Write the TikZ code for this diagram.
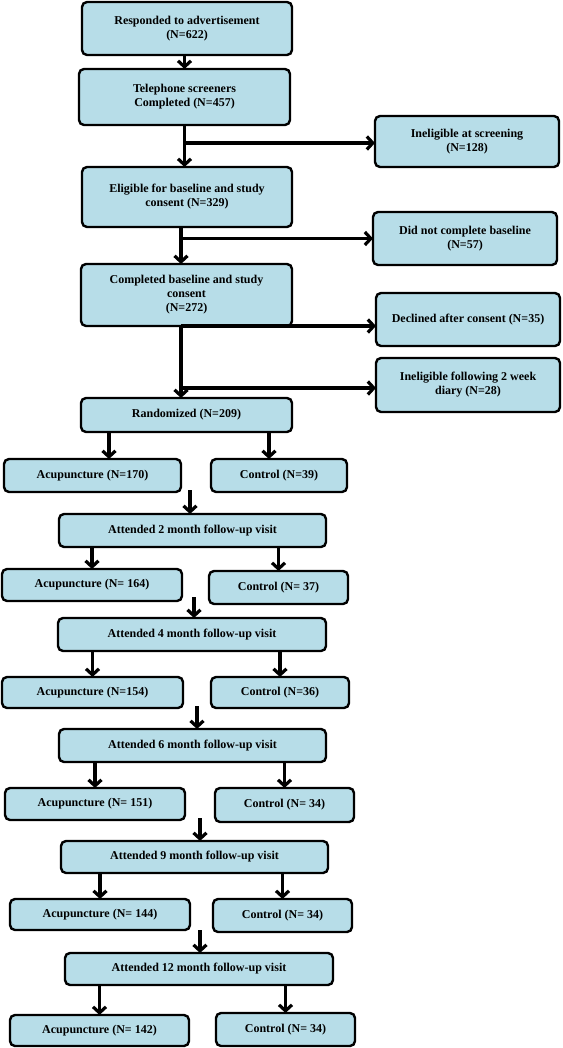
\documentclass[tikz,border=0pt]{standalone}
\usepackage{fontspec}
\setmainfont{Liberation Serif}
\usetikzlibrary{arrows.meta}
\definecolor{boxfill}{HTML}{B7DDE8}
\tikzset{
  bx/.style={draw, line width=2.4pt, rounded corners=5pt, fill=boxfill, align=center,
    inner sep=2pt, outer sep=0pt, font=\fontsize{12}{14}\selectfont\bfseries},
  arr/.style={line width=3.2pt, -{Straight Barb[length=6pt,width=13pt]}}
}
\newcommand\mkbox[6]{%
  \node[bx, minimum width={(#4-#2)*1pt}, minimum height={(#5-#3)*1pt}]
    (#1) at ({(#2+#4)/2},{-(#3+#5)/2}) {#6};}
\begin{document}
\begin{tikzpicture}[x=1pt,y=1pt]
\useasboundingbox (0,0) rectangle (562,-1048);
\mkbox{b1}{82}{2}{292}{55}{Responded to advertisement\\(N=622)}
\mkbox{b2}{79}{69}{290}{125}{Telephone screeners\\Completed (N=457)}
\mkbox{s1}{375}{116}{559}{167}{Ineligible at screening\\(N=128)}
\mkbox{b3}{82}{167}{292}{227}{Eligible for baseline and study\\consent (N=329)}
\mkbox{s2}{373}{212}{557}{265}{Did not complete baseline\\(N=57)}
\mkbox{b4}{81}{264}{292}{326}{Completed baseline and study\\consent\\(N=272)}
\mkbox{s3}{376}{293}{560}{346}{Declined after consent (N=35)}
\mkbox{s4}{376}{358}{560}{412}{Ineligible following 2 week\\diary (N=28)}
\mkbox{b5}{81}{398}{292}{432}{Randomized (N=209)}
\mkbox{a1}{4}{459}{181}{492}{Acupuncture (N=170)}
\mkbox{c1}{211}{459}{347}{492}{Control (N=39)}
\mkbox{f2}{59}{514}{326}{547}{Attended 2 month follow-up visit}
\mkbox{a2}{2}{569}{182}{601}{Acupuncture (N= 164)}
\mkbox{c2}{209}{571}{348}{604}{Control (N= 37)}
\mkbox{f4}{58}{618}{326}{651}{Attended 4 month follow-up visit}
\mkbox{a4}{2}{677}{183}{708}{Acupuncture (N=154)}
\mkbox{c4}{211}{677}{349}{708}{Control (N=36)}
\mkbox{f6}{59}{729}{326}{762}{Attended 6 month follow-up visit}
\mkbox{a6}{5}{788}{185}{820}{Acupuncture (N= 151)}
\mkbox{c6}{215}{788}{354}{822}{Control (N= 34)}
\mkbox{f9}{61}{841}{328}{873}{Attended 9 month follow-up visit}
\mkbox{a9}{10}{899}{190}{930}{Acupuncture (N= 144)}
\mkbox{c9}{213}{899}{352}{932}{Control (N= 34)}
\mkbox{f12}{65}{953}{333}{985}{Attended 12 month follow-up visit}
\mkbox{a12}{10}{1015}{189}{1046}{Acupuncture (N= 142)}
\mkbox{c12}{216}{1013}{355}{1046}{Control (N= 34)}
% top chain
\draw[arr] (b1.south -| b2.north) -- (b2.north);
\draw[arr] (b2.south) -- (b2.south |- b3.north);
\draw[arr] ([yshift=-1.5pt]b2.south |- s1.west) -- ([yshift=-1.5pt]s1.west);
\coordinate (t3) at ([xshift=-6pt]b3.south);
\draw[arr] (t3) -- (t3 |- b4.north);
\draw[arr] (t3 |- s2.west) -- (s2.west);
\coordinate (t4) at ([xshift=-5.5pt]b4.south);
\draw[arr] (t4) -- (t4 |- b5.north);
\draw[arr] (t4) -- (t4 -| s3.west);
\draw[arr] ([yshift=-3pt]t4 |- s4.west) -- ([yshift=-3pt]s4.west);
% randomized split
\coordinate (r1) at ([xshift=-77.5pt]b5.south);
\coordinate (r2) at ([xshift=82.5pt]b5.south);
\draw[arr] (r1) -- (r1 |- a1.north);
\draw[arr] (r2) -- (r2 |- c1.north);
% follow-ups
\coordinate (p2) at ([xshift=-2.5pt,yshift=24pt]f2.north);
\draw[arr] (p2) -- (p2 |- f2.north);
\draw[arr] (f2.south -| a2.north) -- (a2.north);
\draw[arr] (f2.south -| c2.north) -- (c2.north);
\coordinate (p4) at ([xshift=2pt,yshift=21pt]f4.north);
\draw[arr] (p4) -- (p4 |- f4.north);
\draw[arr] (f4.south -| a4.north) -- (a4.north);
\draw[arr] (f4.south -| c4.north) -- (c4.north);
\coordinate (p6) at ([xshift=4.5pt,yshift=23pt]f6.north);
\draw[arr] (p6) -- (p6 |- f6.north);
\draw[arr] (f6.south -| a6.north) -- (a6.north);
\draw[arr] (f6.south -| c6.north) -- (c6.north);
\coordinate (p9) at ([xshift=5.5pt,yshift=23pt]f9.north);
\draw[arr] (p9) -- (p9 |- f9.north);
\draw[arr] (f9.south -| a9.north) -- (a9.north);
\draw[arr] (f9.south -| c9.north) -- (c9.north);
\coordinate (p12) at ([xshift=1pt,yshift=23pt]f12.north);
\draw[arr] (p12) -- (p12 |- f12.north);
\draw[arr] (f12.south -| a12.north) -- (a12.north);
\draw[arr] (f12.south -| c12.north) -- (c12.north);
\end{tikzpicture}
\end{document}
